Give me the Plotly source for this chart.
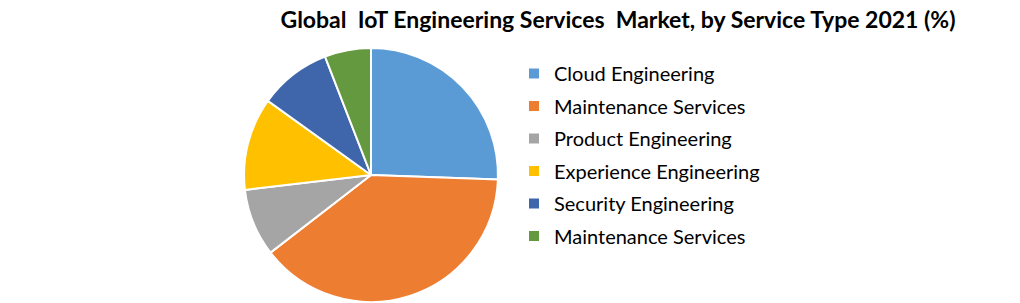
import plotly.graph_objects as go

labels = ["Cloud Engineering", "Maintenance Services", "Product Engineering",
          "Experience Engineering", "Security Engineering", "Maintenance Services\u200b"]
values = [25.6, 39.0, 8.6, 11.8, 9.2, 5.9]
colors = ["#5B9BD5", "#ED7D31", "#A5A5A5", "#FFC000", "#3F65AB", "#64993F"]
title_text = "Global\u00a0\u00a0IoT Engineering Services\u00a0\u00a0Market, by Service Type 2021 (%)"

W, H = 1020, 303
cx, cy, r = 371, 175, 127

fig = go.Figure()
fig.add_trace(go.Pie(
    labels=labels, values=values, sort=False, direction="clockwise", rotation=0,
    marker=dict(colors=colors, line=dict(color="white", width=2)),
    textinfo="none", hoverinfo="label+value", showlegend=False,
    domain=dict(x=[(cx - r) / W, (cx + r) / W], y=[(H - cy - r) / H, (H - cy + r) / H]),
))
for i, (lab, col) in enumerate(zip(labels, colors)):
    fig.add_trace(go.Scatter(
        x=[None], y=[None], mode="markers", name=lab, legendgroup=f"g{i}",
        marker=dict(symbol="square", size=10, color=col), showlegend=True,
    ))

fig.update_layout(
    width=W, height=H, margin=dict(l=0, r=0, t=0, b=0),
    paper_bgcolor="white", plot_bgcolor="white",
    xaxis=dict(visible=False), yaxis=dict(visible=False),
    title=dict(text=title_text, x=618 / W, xanchor="center", y=1 - 20 / H, yanchor="middle",
               font=dict(family="Lato", size=23, color="#000000", weight="bold")),
    legend=dict(x=514 / W, xanchor="left", y=1 - 54 / H, yanchor="top",
                font=dict(family="Lato", size=20, color="#000000"),
                tracegroupgap=3.5, bgcolor="rgba(0,0,0,0)"),
    showlegend=True,
)
fig.write_html("out.html")
